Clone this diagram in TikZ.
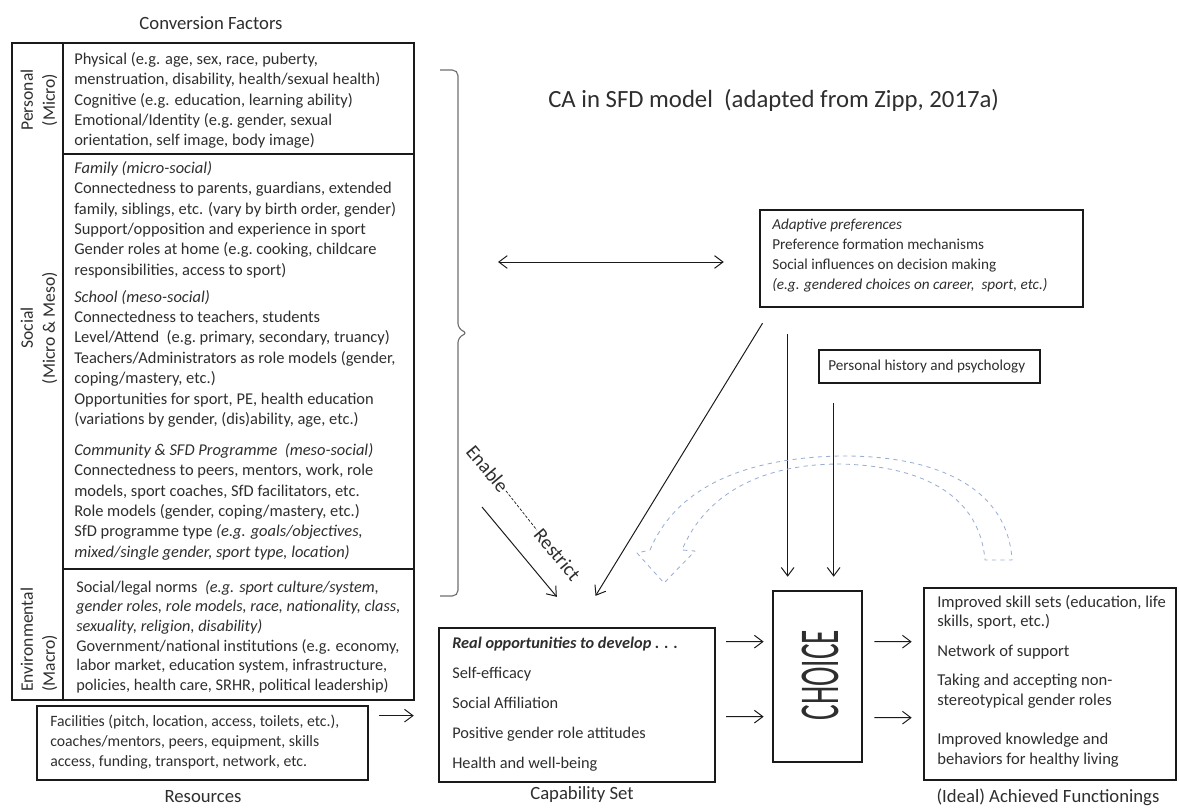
\documentclass[tikz,border=0pt]{standalone}
\usepackage{fontspec}
\usepackage{graphicx}
\setmainfont{Carlito}
\usetikzlibrary{arrows.meta, positioning, calc, fit}
\definecolor{catext}{HTML}{2E2E2E}
\definecolor{caline}{HTML}{1A1A1A}
\definecolor{cagrey}{HTML}{6E6E6E}
\definecolor{cadash}{HTML}{9AAED4}
\newcommand{\bodyfont}{\fontsize{11.7}{14.5}\selectfont}

\begin{document}
\begin{tikzpicture}[x=0.025cm, y=-0.025cm, font=\bodyfont, text=catext,
      frame/.style={draw=caline, line width=1.9pt, inner sep=0pt},
      txt/.style={inner sep=0pt, align=left, anchor=north west},
      side/.style={inner sep=0pt, align=center, rotate=90, font=\fontsize{12.5}{15.5}\selectfont},
      lbl/.style={inner sep=0pt, font=\fontsize{13.3}{15}\selectfont},
      slant/.style={rotate=-50, inner sep=0pt, font=\fontsize{14}{16}\selectfont},
      arr/.style={draw=caline, line width=0.7pt, -{Straight Barb[length=6pt, width=9pt]}},
      dbl/.style={draw=caline, line width=0.7pt, {Straight Barb[length=6pt, width=9pt]}-{Straight Barb[length=6pt, width=9pt]}}]

  \useasboundingbox (0,0) rectangle (1179,808);

  % box corners
  \coordinate (strip-a) at (12,43);   \coordinate (strip-b) at (63,700);
  \coordinate (pers-a) at (63,43);    \coordinate (pers-b) at (414,154);
  \coordinate (soc-a) at (63,154);    \coordinate (soc-b) at (414,569);
  \coordinate (env-a) at (63,569);    \coordinate (env-b) at (414,700);
  \coordinate (res-a) at (37,706);    \coordinate (res-b) at (368,780);
  \coordinate (capset-a) at (439,628); \coordinate (capset-b) at (715,782);
  \coordinate (choice-a) at (773,591); \coordinate (choice-b) at (862,762);
  \coordinate (func-a) at (924,588);  \coordinate (func-b) at (1176,780);
  \coordinate (adapt-a) at (760,210); \coordinate (adapt-b) at (1083,307);
  \coordinate (hist-a) at (819,350);  \coordinate (hist-b) at (1040,383);

  \node[frame, fit=(strip-a)(strip-b)] (strip) {};
  \node[frame, fit=(pers-a)(pers-b)] (pers) {};
  \node[frame, fit=(soc-a)(soc-b)] (soc) {};
  \node[frame, fit=(env-a)(env-b)] (env) {};
  \node[frame, fit=(res-a)(res-b)] (res) {};
  \node[frame, fit=(capset-a)(capset-b)] (capset) {};
  \node[frame, fit=(choice-a)(choice-b)] (choice) {};
  \node[frame, fit=(func-a)(func-b)] (func) {};
  \node[frame, fit=(adapt-a)(adapt-b)] (adapt) {};
  \node[frame, fit=(hist-a)(hist-b)] (hist) {};

  % headings
  \node[lbl] (convlbl) at (211,23) {Conversion Factors};
  \node[lbl] (reslbl) at (203,797) {Resources};
  \node[lbl] (caplbl) at (582,795) {Capability Set};
  \node[lbl] (funclbl) at (1048,797) {(Ideal) Achieved Functionings};
  \node[inner sep=0pt, anchor=west, font=\fontsize{17.6}{20}\selectfont] (title) at (548,100)
    {CA in SFD model\ \ (adapted from Zipp, 2017a)};

  % side labels
  \node[side] (lpers) at (39,100) {Personal\\(Micro)};
  \node[side] (lsoc) at (39,328) {Social\\(Micro \& Meso)};
  \node[side, align=left, anchor=west] (lenv) at (39,692) {Environmental\\(Macro)};

  % conversion factor texts
  \node[txt] (perstxt) at (74,52) {Physical (e.g. age, sex, race, puberty,\\
    menstruation, disability, health/sexual health)\\
    Cognitive (e.g. education, learning ability)\\
    Emotional/Identity (e.g.\ gender, sexual\\
    orientation, self image, body image)};
  \node[txt] (soctxt) at (74,161) {\textit{Family (micro-social)}\\
    Connectedness to parents, guardians, extended\\
    family, siblings, etc. (vary by birth order, gender)\\
    Support/opposition and experience in sport\\
    Gender roles at home (e.g.\ cooking, childcare\\
    responsibilities, access to sport)\\[4.6pt]
    \textit{School (meso-social)}\\
    Connectedness to teachers, students\\
    Level/Attend\ \ (e.g.\ primary, secondary, truancy)\\
    Teachers/Administrators as role models (gender,\\
    coping/mastery, etc.)\\
    Opportunities for sport, PE, health education\\
    (variations by gender, (dis)ability, age, etc.)\\[7.5pt]
    \textit{Community \& SFD Programme\ \ (meso-social)}\\
    Connectedness to peers, mentors, work, role\\
    models, sport coaches, SfD facilitators, etc.\\
    Role models (gender,\ coping/mastery, etc.)\\
    SfD programme type \textit{(e.g. goals/objectives,}\\
    \textit{mixed/single gender, sport type, location)}};
  \node[txt, font=\fontsize{11.6}{14}\selectfont] (envtxt) at (76,580) {Social/legal norms\ \ \textit{(e.g. sport culture/system,}\\
    \textit{gender roles, role models, race,\ nationality, class,}\\
    \textit{sexuality,\ religion,\ disability)}\\
    Government/national institutions (e.g. economy,\\
    labor market, education system,\ infrastructure,\\
    policies, health care, SRHR,\ political leadership)};
  \node[txt, font=\fontsize{11.2}{14.2}\selectfont] (restxt) at (50,715) {Facilities (pitch, location, access, toilets, etc.),\\
    coaches/mentors, peers, equipment,\ skills\\
    access, funding, transport, network, etc.};

  % capability set, functionings, preferences
  \node[txt, font=\fontsize{11.6}{21.3}\selectfont] (captxt) at (452,637) {\textbf{\textit{Real opportunities to develop . . .}}\\
    Self-efficacy\\
    Social Affiliation\\
    Positive gender role attitudes\\
    Health and well-being};
  \node[txt, font=\fontsize{11.8}{13.9}\selectfont] (functxt) at (937,595) {Improved skill sets (education, life\\
    skills, sport, etc.)\\[7pt]
    Network\ of support\\[7pt]
    Taking and accepting non-\\
    stereotypical gender roles\\[14pt]
    Improved knowledge\ and\\
    behaviors for healthy living};
  \node[txt, font=\fontsize{10.8}{14.2}\selectfont] (adapttxt) at (772,219) {\textit{Adaptive preferences}\\
    Preference formation mechanisms\\
    Social influences on decision making\\
    \textit{(e.g. gendered choices on career,\ \ sport, etc.)}};
  \node[inner sep=0pt, anchor=west, font=\fontsize{10.8}{13}\selectfont] (histtxt) at (828,367) {Personal history and psychology};
  \node[rotate=90, inner sep=0pt] (choicetxt) at (820,675) {\scalebox{0.52}[1]{\fontsize{40}{40}\selectfont CHOICE}};

  % bracket and enable/restrict
  \draw[cagrey, line width=0.8pt, rounded corners=4pt] (440,70) -- (458,70) -- (458,329) -- (468,333) -- (458,337) -- (458,596) -- (440,596);
  \coordinate (brmid) at (498,262);
  \coordinate (enarr) at (482,507);
  \node[slant, anchor=west] (enable) at (470,448) {Enable};
  \node[slant, anchor=east] (restrict) at (577,578) {Restrict};
  \draw[caline, line width=0.5pt, dash pattern=on 2pt off 1.2pt, shorten <=1pt, shorten >=1pt] (enable.east) -- (restrict.west);

  % connectors
  \draw[dbl, shorten >=24.8pt] (brmid) -- (adapt.west |- brmid);
  \draw[arr, shorten >=27.6pt] (enarr) -- ($(capset.north west)+(144,0)$);
  \draw[arr, shorten <=12.4pt, shorten >=25.7pt] ($(adapt.south west)+(13,0)$) -- ($(capset.north west)+(139,0)$);
  \draw[arr, shorten <=18.4pt, shorten >=9.2pt] ($(adapt.south west)+(29,0)$) -- ($(choice.north west)+(16,0)$);
  \draw[arr, shorten <=13.5pt, shorten >=9.2pt] ($(hist.south west)+(16,0)$) -- ($(choice.north west)+(62,0)$);
  \draw[arr, shorten <=7pt, shorten >=17pt] ($(res.north east)+(0,11)$) -- ($(capset.north west)+(0,89)$);
  \draw[arr, shorten <=7pt, shorten >=5.7pt] ($(capset.north east)+(0,15)$) -- ($(choice.north west)+(0,52)$);
  \draw[arr, shorten <=7pt, shorten >=5.7pt] ($(capset.north east)+(0,90)$) -- ($(choice.north west)+(0,127)$);
  \draw[arr, shorten <=7.8pt, shorten >=7.8pt] ($(choice.north east)+(0,52)$) -- ($(func.north west)+(0,55)$);
  \draw[arr, shorten <=7.8pt, shorten >=7.8pt] ($(choice.north east)+(0,128)$) -- ($(func.north west)+(0,131)$);

  % hollow curved arrow (dashed outline)
  \draw[cadash, dashed, line width=0.6pt, line join=round]
    (650,550) .. controls (675,490) and (740,458) .. (840,456)
    .. controls (940,455) and (1008,490) .. (1012,560) -- (985,560)
    .. controls (980,500) and (930,466) .. (840,464)
    .. controls (760,464) and (705,495) .. (682,550)
    -- (695,551) -- (664,583) -- (637,553) -- cycle;
\end{tikzpicture}
\end{document}
